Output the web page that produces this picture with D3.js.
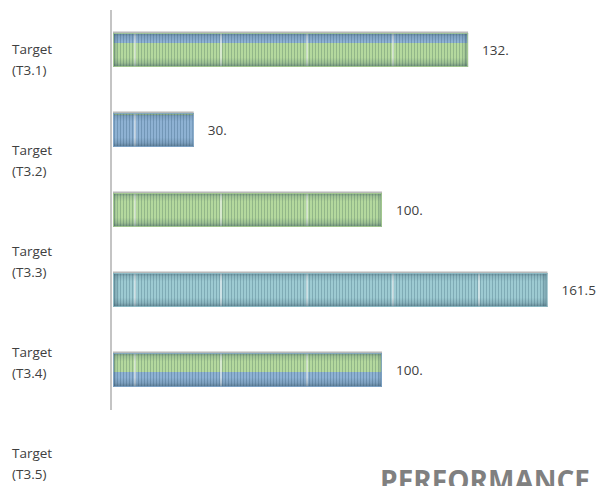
<!DOCTYPE html>
<html><head><meta charset="utf-8">
<script src="https://cdn.jsdelivr.net/npm/d3@7"></script>
<style>body{margin:0;background:#fff}svg{display:block}</style>
</head><body>
<svg id="c" width="598" height="486"></svg>
<script>
const categories = ["Target (T3.1)","Target (T3.2)","Target (T3.3)","Target (T3.4)","Target (T3.5)"];
const values = [132, 30, 100, 161.5, 100];
const valueLabels = ["132.", "30.", "100.", "161.5", "100."];
const title = "PERFORMANCE";

const svg = d3.select("#c");
const x = d3.scaleLinear().domain([0, 100]).range([113, 382]);
const yBars = d3.scaleBand().domain(d3.range(values.length)).range([10, 410]).paddingInner(0.575).paddingOuter(0.2875);
const yLab = d3.scaleBand().domain(categories).range([10, 515]);

// fill styles per bar: [topColor, bottomColor, split fraction]
const blue = "#8ab1d6", green = "#b6dd99", teal = "#9ccdd5";
const fills = [[blue, green, 0.3],[green, blue, 0.07],[green, green, 0.5],[teal, teal, 0.5],[green, blue, 0.55]];

const defs = svg.append("defs");
const stripe = defs.append("pattern").attr("id","stripe").attr("patternUnits","userSpaceOnUse").attr("width",3).attr("height",10);
stripe.append("rect").attr("x",0).attr("y",0).attr("width",1).attr("height",10).attr("fill","#2a4a5a").attr("opacity",0.22);
stripe.append("rect").attr("x",1.5).attr("y",0).attr("width",1).attr("height",10).attr("fill","#ffffff").attr("opacity",0.15);
const hi = defs.append("pattern").attr("id","hi").attr("patternUnits","userSpaceOnUse").attr("width",86).attr("height",10).attr("x",134);
hi.append("rect").attr("x",0).attr("y",0).attr("width",2).attr("height",10).attr("fill","#ffffff").attr("opacity",0.55);
const edge = defs.append("linearGradient").attr("id","edge").attr("x1",0).attr("y1",0).attr("x2",0).attr("y2",1);
[[0,0.5],[0.1,0.15],[0.25,0],[0.72,0],[0.88,0.18],[1,0.55]].forEach(([o,a])=>edge.append("stop").attr("offset",o).attr("stop-color","#2d4a5c").attr("stop-opacity",a));
const edgeX = defs.append("linearGradient").attr("id","edgeX").attr("x1",0).attr("y1",0).attr("x2",1).attr("y2",0);
[[0,0.4],[0.015,0.05],[0.985,0.05],[1,0.4]].forEach(([o,a])=>edgeX.append("stop").attr("offset",o).attr("stop-color","#2d4a5c").attr("stop-opacity",a));
fills.forEach((f,i)=>{
  const g = defs.append("linearGradient").attr("id","fill"+i).attr("x1",0).attr("y1",0).attr("x2",0).attr("y2",1);
  g.append("stop").attr("offset",0).attr("stop-color",f[0]);
  g.append("stop").attr("offset",f[2]).attr("stop-color",f[0]);
  g.append("stop").attr("offset",f[2]).attr("stop-color",f[1]);
  g.append("stop").attr("offset",1).attr("stop-color",f[1]);
});

// axis line
svg.append("line").attr("x1",111).attr("x2",111).attr("y1",10).attr("y2",410).attr("stroke","#c4c4c4").attr("stroke-width",2);

const bars = svg.append("g").selectAll("g").data(values).join("g");
bars.each(function(v,i){
  const g = d3.select(this);
  const bx = x(0), bw = x(v) - x(0), by = yBars(i), bh = yBars.bandwidth();
  g.append("rect").attr("x",bx).attr("y",by-1.5).attr("width",bw).attr("height",2).attr("fill","#b8b8b8");
  g.append("rect").attr("x",bx).attr("y",by).attr("width",bw).attr("height",bh).attr("fill","url(#fill"+i+")");
  g.append("rect").attr("x",bx).attr("y",by).attr("width",bw).attr("height",bh).attr("fill","url(#stripe)");
  g.append("rect").attr("x",bx).attr("y",by).attr("width",bw).attr("height",bh).attr("fill","url(#hi)");
  g.append("rect").attr("x",bx).attr("y",by).attr("width",bw).attr("height",bh).attr("fill","url(#edge)");
  g.append("rect").attr("x",bx).attr("y",by).attr("width",bw).attr("height",bh).attr("fill","url(#edgeX)");
  g.append("rect").attr("x",bx+0.5).attr("y",by+0.5).attr("width",bw-1).attr("height",bh-1).attr("fill","none").attr("stroke",fills[i][1]).attr("stroke-opacity",0.7);
  g.append("text").attr("x",x(v)+14).attr("y",by+bh/2).attr("dy","0.35em")
    .attr("font-family","Open Sans, sans-serif").attr("font-size",13.5).attr("fill","#404040").text(valueLabels[i]);
});

// category labels
const labs = svg.append("g").selectAll("text").data(categories).join("text")
  .attr("x",12).attr("y",d=>yLab(d)+yLab.bandwidth()/2)
  .attr("font-family","Open Sans, sans-serif").attr("font-size",13.5).attr("fill","#404040");
labs.each(function(d){
  const parts = d.split(" ");
  const t = d3.select(this);
  t.append("tspan").attr("x",12).attr("dy","-0.45em").text(parts[0]);
  t.append("tspan").attr("x",12).attr("dy","1.55em").text(parts[1]);
});

svg.append("text").attr("x",590).attr("y",491).attr("text-anchor","end")
  .attr("font-family","Open Sans, sans-serif").attr("font-weight","bold").attr("font-size",28)
  .attr("fill","#808080").text(title);
</script>
</body></html>
